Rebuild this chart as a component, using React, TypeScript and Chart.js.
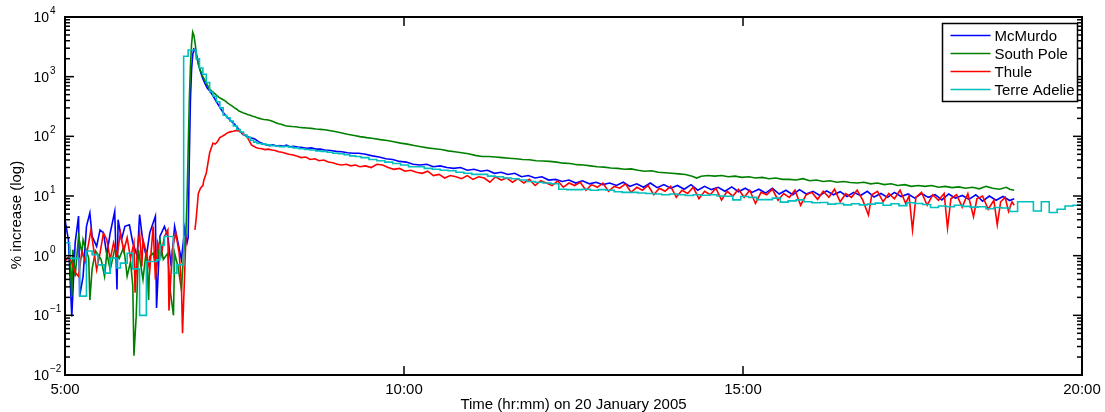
import React, { useEffect, useRef } from "react";
import { Chart, registerables } from "chart.js";

Chart.register(...registerables);

// Time is in minutes after midnight (20 January 2005); values are % increase.
const seriesNames = ["McMurdo", "South Pole", "Thule", "Terre Adelie"];
const seriesColors = ["#0000ff", "#008000", "#ff0000", "#00bfbf"];

const xTickValues = [300, 600, 900, 1200];
const xTickLabels = ["5:00", "10:00", "15:00", "20:00"];
const yDecades = [-2, -1, 0, 1, 2, 3, 4];
const xTitle = "Time (hr:mm) on 20 January 2005";
const yTitle = "% increase (log)";

const mcMurdo: [number, number][] = [
  [300, 4.0], [303, 1.85], [306, 0.096], [309, 1.65], [312, 4.6], [313, 0.21], [316, 0.45], [319, 3.1],
  [322, 5.2], [324, 2.1], [328, 1.43], [331, 2.7], [334, 2.4], [337, 1.04], [340, 2.4], [344, 5.5],
  [346, 0.27], [347, 4.0], [350, 1.85], [353, 3.1], [357, 3.3], [360, 1.65], [364, 0.97], [366, 4.9],
  [369, 1.65], [372, 0.97], [375, 2.4], [380, 4.6], [381, 0.133], [384, 2.1], [388, 3.1], [391, 2.1],
  [394, 0.66], [397, 3.1], [400, 1.65], [403, 0.86], [406, 2.9], [408, 1.65],
  [409, 2.0], [410, 40], [411, 400], [412, 1300], [413, 2300], [414, 2900], [415, 2800], [416, 2400],
  [417, 2000], [418, 1700], [419, 1400], [420, 1200], [421, 1050], [422, 920], [424, 760], [426, 640],
  [428, 580], [430, 510], [432, 440], [434, 380], [436, 330], [438, 285], [440, 250], [442, 225],
  [444, 205], [446, 190], [448, 172], [450, 160], [452, 145], [454, 130], [456, 115], [458, 106],
  [460, 102], [462, 98], [464, 95], [466, 93], [468, 90], [470, 85], [472, 80], [474, 77], [476, 74],
  [478, 72], [481, 70], [484, 72], [487, 69], [490, 70], [493, 68], [496, 71], [499, 67], [502, 68],
  [506, 66], [510, 65], [514, 63], [518, 64], [522, 61], [526, 61], [530, 59], [535, 58], [540, 56],
  [545, 55], [550, 53], [555, 52],
  [560, 52], [566, 50], [572, 47], [578, 45], [584, 42], [590, 41], [596, 38], [602, 37], [608, 34],
  [614, 33], [620, 34], [626, 31], [632, 32], [638, 30], [644, 29], [650, 30], [656, 27], [662, 28],
  [668, 26], [674, 27], [680, 24], [686, 25], [692, 23], [698, 24], [704, 21], [710, 22], [716, 20],
  [722, 21], [728, 18.5], [734, 19], [740, 17.5], [746, 18.5], [752, 16.5], [758, 18], [764, 16],
  [770, 17], [776, 15.5], [782, 16.5], [788, 15], [794, 17], [800, 14.5], [806, 16], [812, 14],
  [818, 16.5], [824, 13.8], [830, 15.5], [836, 13.5], [842, 15], [848, 13], [854, 15.5], [860, 12.5],
  [866, 14.5], [872, 12.8], [878, 14], [884, 12], [890, 14.2], [896, 11.8], [902, 13.5], [908, 11.5],
  [914, 13], [920, 11.2], [926, 13.5], [932, 10.8], [938, 12.5], [944, 10.5], [950, 12.8], [956, 10.8],
  [962, 12], [968, 10.2], [974, 12.2], [980, 10.5], [986, 11.8], [992, 9.8], [998, 11.5], [1004, 10.2],
  [1010, 12], [1016, 9.6], [1022, 11], [1028, 9.5], [1034, 11.5], [1040, 9.8], [1046, 10.8], [1052, 9.2],
  [1058, 11], [1064, 9.5], [1070, 10.5], [1076, 8.6], [1082, 10.8], [1088, 9.2], [1094, 10.2], [1100, 8.8],
  [1106, 10.5], [1112, 8.2], [1118, 10], [1124, 8.5], [1130, 9.8], [1136, 8.4], [1140, 9],
];

const southPole: [number, number][] = [
  [304, 1.5], [306, 0.21], [307, 1.26], [309, 0.45], [312, 2.1], [315, 1.1], [316, 1.85], [319, 1.18],
  [321, 0.91], [322, 0.18], [324, 0.6], [327, 1.2], [332, 0.86], [335, 0.45], [337, 1.1], [340, 0.58],
  [344, 1.3], [348, 0.9], [352, 1.4], [355, 0.45], [358, 0.8], [360, 0.31], [361, 0.021], [363, 0.096],
  [365, 1.26], [367, 0.7], [369, 0.4], [372, 1.26], [374, 0.18], [375, 0.97], [378, 1.1], [381, 0.58],
  [384, 1.85], [387, 0.86], [391, 1.1], [393, 0.27], [396, 0.1], [397, 1.1], [400, 0.66], [403, 0.27],
  [405, 1.1], [407, 2.4], [408, 8.7], [409, 60], [410, 400], [411, 1500], [412, 3500], [413, 5600],
  [414, 5000], [415, 3800], [416, 2700], [417, 2000], [418, 1600], [419, 1400],
  [420, 1250], [422, 1000], [424, 850], [426, 720], [428, 620], [430, 570], [432, 530], [434, 490],
  [436, 455], [438, 430], [440, 410], [442, 390], [444, 360], [446, 340], [448, 320], [450, 300],
  [452, 285], [454, 265], [456, 255], [458, 245], [460, 238], [462, 230], [464, 225], [466, 218],
  [468, 212], [470, 205], [472, 200], [474, 195], [476, 192], [478, 190], [480, 188], [483, 180],
  [486, 170], [489, 162], [492, 158], [495, 150], [498, 148], [501, 146], [504, 145], [507, 142],
  [510, 140], [514, 138], [518, 136], [522, 133], [526, 131], [530, 129], [535, 124], [540, 119],
  [545, 114], [550, 108], [556, 103],
  [561, 99], [567, 95], [573, 92], [579, 88], [585, 85], [591, 81], [597, 77], [603, 74], [609, 70],
  [615, 67], [621, 64], [627, 62], [633, 60], [639, 57], [645, 55], [651, 53], [657, 51], [663, 48],
  [669, 46], [675, 46], [681, 45], [687, 44], [693, 43], [699, 42], [705, 41], [711, 40.5], [717, 39],
  [723, 38.5], [729, 38], [735, 37], [741, 35.5], [747, 35], [753, 33.5], [759, 33], [765, 32],
  [771, 31], [777, 30.5], [783, 29.5], [789, 29], [795, 28], [801, 28.5], [807, 27], [813, 26],
  [819, 26.5], [825, 25], [831, 24.5], [837, 24], [843, 23.5], [849, 23], [855, 21.5], [859, 20],
  [863, 21.5], [869, 22], [875, 21.5], [881, 22], [887, 21], [893, 21.5], [899, 20.5], [905, 21],
  [911, 20], [917, 20.5], [923, 19.5], [929, 20], [935, 19], [941, 19], [947, 18.5], [953, 19.5],
  [959, 18], [965, 18.5], [971, 17.5], [977, 18], [983, 17], [989, 17.5], [995, 16.8], [1001, 16.5],
  [1007, 17], [1013, 16], [1019, 16.5], [1025, 15.5], [1031, 16], [1037, 15], [1043, 15.5], [1049, 14.5],
  [1055, 15], [1061, 14.5], [1067, 15], [1073, 14], [1079, 14.5], [1085, 13.8], [1091, 14.2], [1097, 13.5],
  [1103, 14], [1109, 13.2], [1115, 14.5], [1121, 13.5], [1127, 13], [1133, 14], [1136, 13], [1140, 12.5],
];

const thule: [number, number | null][] = [
  [300, 0.9], [301, 0.86], [304, 0.97], [309, 0.52], [312, 0.45], [315, 1.2], [318, 0.8], [323, 2.7],
  [325, 1.43], [328, 0.58], [331, 1.1], [334, 2.4], [337, 1.85], [340, 0.86], [343, 1.65], [346, 0.97],
  [349, 2.4], [352, 1.2], [355, 2.0], [358, 0.9], [361, 1.65], [362, 0.24], [364, 1.26], [366, 2.4],
  [368, 0.66], [369, 1.85], [372, 1.1], [375, 0.58], [378, 3.1], [380, 0.4], [382, 1.65], [385, 1.0],
  [388, 2.1], [391, 2.7], [392, 0.12], [395, 1.26], [398, 2.4], [401, 1.1], [403, 0.35], [404, 0.05],
  [406, 0.58], [407, 2.1], [408, null],
  [415, 2.7], [416, 4], [418, 11], [420, 13.7], [422, 15], [423, 18.8], [425, 24], [426, 31], [428, 53],
  [430, 68], [431, 77], [433, 74], [435, 82], [437, 95], [439, 100], [441, 105], [443, 112], [445, 117],
  [447, 120], [449, 122], [451, 125], [453, 124], [455, 120], [457, 113], [459, 106], [461, 99],
  [463, 85], [465, 72], [467, 68], [469, 65], [471, 63], [474, 62], [477, 60], [480, 61], [483, 59],
  [486, 58], [489, 55], [492, 54], [495, 52], [498, 50], [501, 49], [505, 47], [509, 44], [513, 45],
  [517, 41], [521, 42], [525, 39], [529, 40], [533, 37], [537, 36], [541, 34], [545, 33], [549, 34],
  [553, 32], [557, 33], [561, 31],
  [566, 32], [571, 30], [576, 34], [581, 33], [586, 30], [591, 28], [596, 29], [601, 26], [606, 27],
  [611, 25], [616, 24], [621, 26], [626, 22], [631, 23], [636, 20], [641, 22], [646, 21], [651, 19.5],
  [656, 22], [661, 19], [666, 21], [671, 20], [676, 17], [681, 21], [686, 18.5], [691, 20], [696, 17],
  [701, 19.5], [706, 16.5], [711, 19], [716, 15], [721, 18], [726, 16.5], [731, 15], [736, 18], [741, 14],
  [746, 16.5], [751, 15], [756, 17], [761, 12.5], [766, 15.5], [771, 14], [776, 16.5], [781, 12],
  [786, 14.5], [791, 13.5], [796, 16], [801, 11.5], [806, 14], [811, 12.5], [816, 15], [821, 10.5],
  [826, 13.5], [831, 12], [836, 14.5], [841, 9.5], [846, 12.5], [851, 11], [856, 14], [861, 9],
  [866, 12], [871, 10.5], [876, 13.5], [881, 8.5], [886, 12], [891, 10], [896, 13], [901, 9.5],
  [906, 12.5], [911, 7.5], [916, 11.5], [921, 10.5], [926, 13], [931, 8.5], [936, 11], [941, 9.5],
  [946, 12.5], [951, 7], [956, 10.5], [961, 11.5], [966, 8.8], [971, 12], [976, 9.5], [981, 13],
  [986, 8], [991, 11], [996, 9.5], [1001, 12.5], [1006, 8.5], [1011, 4.8], [1014, 10.5], [1019, 12],
  [1024, 8], [1029, 11], [1034, 9], [1039, 12.5], [1044, 7.5], [1047, 10], [1050, 2.7], [1053, 9.5],
  [1058, 11.5], [1063, 7], [1068, 10.5], [1073, 8.5], [1078, 11], [1081, 2.9], [1084, 9], [1089, 10.5],
  [1094, 6.5], [1099, 11], [1104, 4.5], [1107, 9], [1112, 10], [1117, 6], [1122, 8.5], [1125, 3.3],
  [1128, 8], [1132, 9.5], [1135, 5.5], [1138, 8], [1140, 7],
];

const terreAdelie: [number, number][] = [
  [300, 1.1], [304, 1.65], [313, 0.9], [319, 0.21], [324, 1.2], [329, 1.04], [335, 0.7], [340, 0.51],
  [346, 0.91], [349, 0.62], [355, 0.75], [360, 1.1], [366, 0.6], [372, 0.1], [375, 0.8], [381, 0.8],
  [384, 0.85], [388, 1.5], [396, 2.1], [399, 0.51], [405, 0.7], [409, 2200], [416, 2800], [419, 2000],
  [422, 1400], [425, 1100], [428, 800], [431, 560], [434, 470], [437, 380], [440, 300], [443, 225],
  [446, 205], [449, 180], [452, 150], [455, 130], [458, 118], [461, 105], [464, 96], [467, 86], [470, 80],
  [474, 76], [478, 74], [482, 72], [486, 70], [490, 69], [494, 67], [498, 68], [502, 66], [507, 64],
  [512, 62], [517, 60], [522, 59], [527, 57], [532, 56], [537, 54], [542, 52], [547, 51], [552, 49],
  [557, 47], [562, 46], [569, 44], [576, 41], [583, 39], [590, 37], [597, 35], [604, 33], [611, 31],
  [618, 31], [625, 29], [632, 28], [639, 27], [646, 26.5], [653, 25], [660, 24], [667, 23], [674, 23],
  [681, 21.5], [688, 21], [695, 20], [702, 19.5], [709, 18.5], [716, 17.5], [723, 17], [730, 16.5],
  [737, 16], [744, 13], [751, 12.8], [758, 12.8], [765, 13], [772, 12.5], [779, 12.8], [786, 12.5],
  [793, 11.8], [800, 11.5], [807, 11.5], [814, 11.2], [821, 11], [828, 10.8], [835, 10.5], [842, 10.8],
  [849, 10.5], [856, 10.2], [863, 10.5], [870, 10.3], [877, 10.5], [884, 10], [891, 9.9], [898, 8.6],
  [905, 9.8], [912, 9.5], [919, 8.7], [926, 8.7], [933, 9.2], [940, 7.9], [947, 8.3], [954, 8.6],
  [961, 8], [968, 7.7], [975, 7.8], [982, 7.3], [989, 7.5], [996, 7.1], [1003, 7.4], [1010, 7.1],
  [1017, 7.3], [1024, 7.6], [1031, 7], [1038, 7.4], [1045, 6.9], [1052, 7.7], [1059, 7.5], [1066, 7.2],
  [1073, 6.4], [1080, 6.8], [1087, 6.6], [1094, 7], [1101, 6.7], [1108, 6.5], [1115, 6.6], [1122, 6.1],
  [1129, 6.4], [1136, 6.3], [1143, 5.5], [1150, 8], [1157, 8], [1164, 5.6], [1171, 8], [1178, 5.3],
  [1185, 6], [1192, 6.8], [1199, 7], [1200, 7],
];

const seriesData = [mcMurdo, southPole, thule, terreAdelie];
const seriesStepped = [false, false, false, true];

const FONT = "'Liberation Sans', Arial, Helvetica, sans-serif";

const axesPlugin = {
  id: "matlabAxes",
  afterDatasetsDraw(chart: any) {
    const { ctx, chartArea: a, scales } = chart;
    const xs = scales.x;
    const ys = scales.y;
    ctx.save();
    ctx.strokeStyle = "#000";
    ctx.fillStyle = "#000";

    const seg = (x1: number, y1: number, x2: number, y2: number) => {
      ctx.beginPath();
      ctx.moveTo(x1, y1);
      ctx.lineTo(x2, y2);
      ctx.stroke();
    };

    // ticks (inward, on all four sides)
    ctx.lineWidth = 1.5;
    xTickValues.forEach((t) => {
      const px = xs.getPixelForValue(t);
      seg(px, a.bottom, px, a.bottom - 9);
      seg(px, a.top, px, a.top + 9);
    });
    yDecades.forEach((k) => {
      for (let m = 1; m <= 9; m++) {
        const v = m * Math.pow(10, k);
        if (v > ys.max * 1.0001) break;
        const py = ys.getPixelForValue(v);
        const len = m === 1 ? 9 : 5;
        seg(a.left, py, a.left + len, py);
        seg(a.right, py, a.right - len, py);
      }
    });

    // frame
    ctx.lineWidth = 2;
    ctx.strokeRect(a.left, a.top, a.right - a.left, a.bottom - a.top);

    // y tick labels with superscript exponents
    yDecades.forEach((k) => {
      const py = ys.getPixelForValue(Math.pow(10, k));
      ctx.font = `14px ${FONT}`;
      ctx.textAlign = "right";
      ctx.textBaseline = "middle";
      ctx.fillText("10", a.left - 16, py + 1);
      ctx.font = `10px ${FONT}`;
      ctx.textAlign = "left";
      ctx.textBaseline = "alphabetic";
      ctx.fillText(String(k).replace("-", "\u2212"), a.left - 15, py - 3);
    });

    // x tick labels
    ctx.font = `15px ${FONT}`;
    ctx.textAlign = "center";
    ctx.textBaseline = "middle";
    xTickValues.forEach((t, i) => {
      ctx.fillText(xTickLabels[i], xs.getPixelForValue(t), a.bottom + 15);
    });

    // axis titles
    ctx.font = `15px ${FONT}`;
    ctx.fillText(xTitle, (a.left + a.right) / 2, a.bottom + 30);
    ctx.save();
    ctx.translate(17, 215);
    ctx.rotate(-Math.PI / 2);
    ctx.fillText(yTitle, 0, 0);
    ctx.restore();

    // legend box (top-right, inside the axes)
    const bx = a.right - 139.5;
    const by = a.top + 6.5;
    const bw = 135;
    const bh = 78;
    ctx.fillStyle = "#fff";
    ctx.fillRect(bx, by, bw, bh);
    ctx.lineWidth = 1.5;
    ctx.strokeStyle = "#000";
    ctx.strokeRect(bx, by, bw, bh);
    ctx.font = `15px ${FONT}`;
    ctx.textAlign = "left";
    ctx.textBaseline = "middle";
    seriesNames.forEach((name, i) => {
      const ly = by + 12 + i * 18;
      ctx.strokeStyle = seriesColors[i];
      ctx.lineWidth = 1.6;
      seg(bx + 8, ly, bx + 48, ly);
      ctx.fillStyle = "#000";
      ctx.fillText(name, bx + 52, ly + 1);
    });
    ctx.restore();
  },
};

export default function App() {
  const canvasRef = useRef<HTMLCanvasElement | null>(null);

  useEffect(() => {
    const canvas = canvasRef.current;
    if (!canvas) return;
    const datasets = seriesData.map((pts, i) => ({
      label: seriesNames[i],
      data: pts.map(([x, y]) => ({ x, y })),
      borderColor: seriesColors[i],
      backgroundColor: seriesColors[i],
      borderWidth: 1.6,
      pointRadius: 0,
      fill: false,
      tension: 0,
      stepped: seriesStepped[i] ? "after" : false,
      spanGaps: false,
      order: seriesData.length - i,
    }));
    const chart = new Chart(canvas, {
      type: "line",
      data: { datasets } as any,
      options: {
        animation: false,
        responsive: false,
        maintainAspectRatio: false,
        events: [],
        layout: { padding: { left: 65, right: 23, top: 17, bottom: 37 } },
        plugins: { legend: { display: false }, tooltip: { enabled: false } },
        scales: {
          x: { type: "linear", min: 300, max: 1200, display: false },
          y: { type: "logarithmic", min: 0.01, max: 10000, display: false },
        },
      } as any,
      plugins: [axesPlugin],
    });
    return () => chart.destroy();
  }, []);

  return (
    <div style={{ position: "fixed", left: 0, top: 0, width: 1105, height: 412, background: "#fff" }}>
      <canvas ref={canvasRef} width={1105} height={412} style={{ display: "block" }} />
    </div>
  );
}
